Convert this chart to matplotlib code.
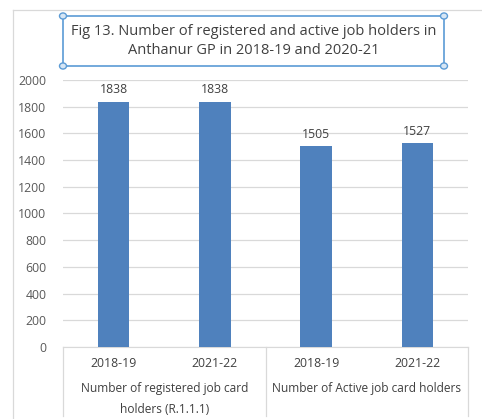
import matplotlib.pyplot as plt
from matplotlib.patches import Rectangle, Circle
import numpy as np

years = ['2018-19', '2021-22', '2018-19', '2021-22']
values = [1838, 1838, 1505, 1527]
groups = ['Number of registered job card\nholders (R.1.1.1)', 'Number of Active job card holders']
title = 'Fig 13. Number of registered and active job holders in\nAnthanur GP in 2018-19 and 2020-21'

W, H = 482, 419
fig = plt.figure(figsize=(W / 100, H / 100), dpi=100)
plt.rcParams['font.family'] = ['Open Sans', 'DejaVu Sans']

# plot area in pixel coords
x0, x1, ytop, ybot = 63, 468, 80, 347
ax = fig.add_axes([x0 / W, 1 - ybot / H, (x1 - x0) / W, (ybot - ytop) / H])

x = np.arange(len(values))
bars = ax.bar(x, values, width=0.31, color='#4F81BD', zorder=3)
for xi, v in zip(x, values):
    ax.text(xi, v + 40, str(v), ha='center', va='bottom', fontsize=8.8, color='#404040')

ax.set_xlim(-0.5, len(values) - 0.5)
ax.set_ylim(0, 2000)
ax.set_yticks(range(0, 2001, 200))
ax.yaxis.grid(True, color='#D9D9D9', linewidth=0.9, zorder=0)
ax.tick_params(axis='y', length=0, labelsize=8.8, labelcolor='#595959', pad=12)
ax.set_xticks([])
for s in ['top', 'right', 'left']:
    ax.spines[s].set_visible(False)
ax.spines['bottom'].set_color('#D9D9D9')

# category labels below the axis
for xi, lab in zip(x, years):
    fig.text((x0 + (xi + 0.5) * (x1 - x0) / 4) / W, 1 - 363 / H, lab,
             ha='center', va='center', fontsize=8.8, color='#404040')
for gi, g in enumerate(groups):
    fig.text((x0 + (gi * 2 + 1) * (x1 - x0) / 4) / W, 1 - 382 / H, g,
             ha='center', va='top', fontsize=8.6, color='#404040', linespacing=1.75)

# group separators
for px in [x0, (x0 + x1) / 2, x1]:
    fig.add_artist(plt.Line2D([px / W, px / W], [1 - ybot / H, 1 - 416 / H],
                              color='#D9D9D9', linewidth=0.9))

# outer chart frame
fig.add_artist(plt.Line2D([13 / W, 13 / W], [0, 1 - 10 / H], color='#D9D9D9', linewidth=0.9))
fig.add_artist(plt.Line2D([13 / W, 1], [1 - 10 / H, 1 - 10 / H], color='#D9D9D9', linewidth=0.9))

# title box
bx0, bx1, by0, by1 = 63, 444, 16, 66
fig.add_artist(Rectangle((bx0 / W, 1 - by1 / H), (bx1 - bx0) / W, (by1 - by0) / H,
                         fill=False, edgecolor='#5B9BD5', linewidth=1.2, transform=fig.transFigure))
for cx, cy in [(bx0, by0), (bx1, by0), (bx0, by1), (bx1, by1)]:
    fig.add_artist(Circle((cx / W, 1 - cy / H), 3.5 / W, facecolor='#D6E6F5',
                          edgecolor='#5B9BD5', linewidth=1, transform=fig.transFigure))
fig.text((bx0 + bx1) / 2 / W, 1 - 41 / H, title, ha='center', va='center',
         fontsize=10.5, color='#404040', linespacing=1.3)

fig.savefig('out.png', dpi=100)
